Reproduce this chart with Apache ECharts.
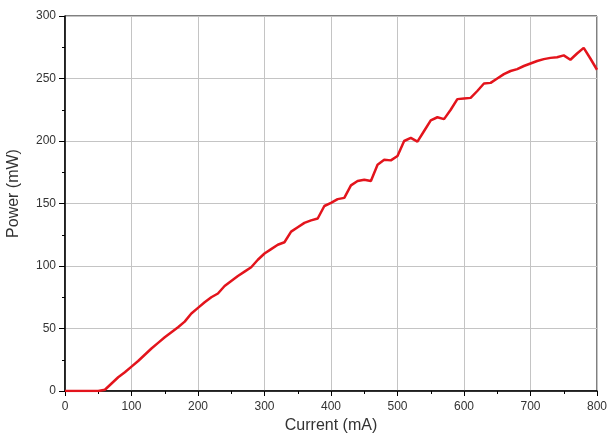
<!DOCTYPE html>
<html lang="en">
<head>
    <meta charset="UTF-8">
    <title>Power vs Current</title>
    <script src="https://cdn.jsdelivr.net/npm/echarts@6/dist/echarts.min.js"></script>
    <style>
        html, body { margin: 0; padding: 0; background: #ffffff; }
        #chart { width: 608px; height: 437px; }
    </style>
</head>
<body>
<div id="chart"></div>
<script>
    // current (mA) and optical power (mW)
    var current = [0, 10, 20, 30, 40, 50, 60, 70, 80, 90,
        100, 110, 120, 130, 140, 150, 160, 170, 180, 190,
        200, 210, 220, 230, 240, 250, 260, 270, 280, 290,
        300, 310, 320, 330, 340, 350, 360, 370, 380, 390,
        400, 410, 420, 430, 440, 450, 460, 470, 480, 490,
        500, 510, 520, 530, 540, 550, 560, 570, 580, 590,
        600, 610, 620, 630, 640, 650, 660, 670, 680, 690,
        700, 710, 720, 730, 740, 750, 760, 770, 780, 790, 800];
    var power = [0, 0, 0, 0, 0, 0, 1, 6, 11, 15,
        19.5, 24, 29, 34, 38.5, 43, 47, 51, 55.5, 62,
        66.5, 71, 75, 78, 84, 88, 92, 95.5, 99, 105,
        110, 113.5, 117, 119, 127.5, 131, 134.5, 136.5, 138, 148,
        150.5, 153.5, 154.5, 164.5, 168, 169, 168, 181, 185, 184.5,
        188, 200, 202.5, 199.5, 208, 216.5, 219, 217.5, 225, 233.5,
        234, 234.5, 240, 246, 246.5, 250, 253.5, 256, 257.5, 260,
        262, 264, 265.5, 266.5, 267, 268.5, 265, 270, 274.5, 266, 257];

    var points = [];
    for (var i = 0; i < current.length; i++) {
        points.push([current[i], power[i]]);
    }

    var font = '"Liberation Sans", Arial, sans-serif';
    var myChart = echarts.init(document.getElementById('chart'));
    var option = {
        backgroundColor: '#ffffff',
        animation: false,
        grid: {
            left: 65,
            right: 11,
            top: 16,
            bottom: 46,
            containLabel: false,
            outerBoundsMode: 'none',
            show: true,
            borderColor: '#000',
            borderWidth: 1
        },
        xAxis: {
            type: 'value',
            min: 0,
            max: 800,
            interval: 100,
            name: 'Current (mA)',
            nameLocation: 'middle',
            nameGap: 25,
            nameTextStyle: { fontFamily: font, fontSize: 16, color: '#333' },
            axisLine: { lineStyle: { color: '#000', width: 1.5 } },
            axisTick: { show: true, length: 5, lineStyle: { color: '#000' } },
            minorTick: { show: true, splitNumber: 2, length: 3, lineStyle: { color: '#000' } },
            axisLabel: { fontFamily: font, fontSize: 12, color: '#333', margin: 10 },
            splitLine: { lineStyle: { color: '#c4c4c4', width: 1 } }
        },
        yAxis: {
            type: 'value',
            min: 0,
            max: 300,
            interval: 50,
            name: 'Power (mW)',
            nameLocation: 'middle',
            nameGap: 43,
            nameTextStyle: { fontFamily: font, fontSize: 16, color: '#333', padding: [0, 0, 0, 20] },
            axisLine: { show: true, lineStyle: { color: '#000', width: 1.5 } },
            axisTick: { show: true, length: 6, lineStyle: { color: '#000' } },
            minorTick: { show: true, splitNumber: 2, length: 3, lineStyle: { color: '#000' } },
            axisLabel: { fontFamily: font, fontSize: 12, color: '#333', margin: 9 },
            splitLine: { lineStyle: { color: '#c4c4c4', width: 1 } }
        },
        series: [{
            type: 'line',
            data: points,
            showSymbol: false,
            lineStyle: { color: '#e3141c', width: 2.5 }
        }]
    };
    myChart.setOption(option);
</script>
</body>
</html>
